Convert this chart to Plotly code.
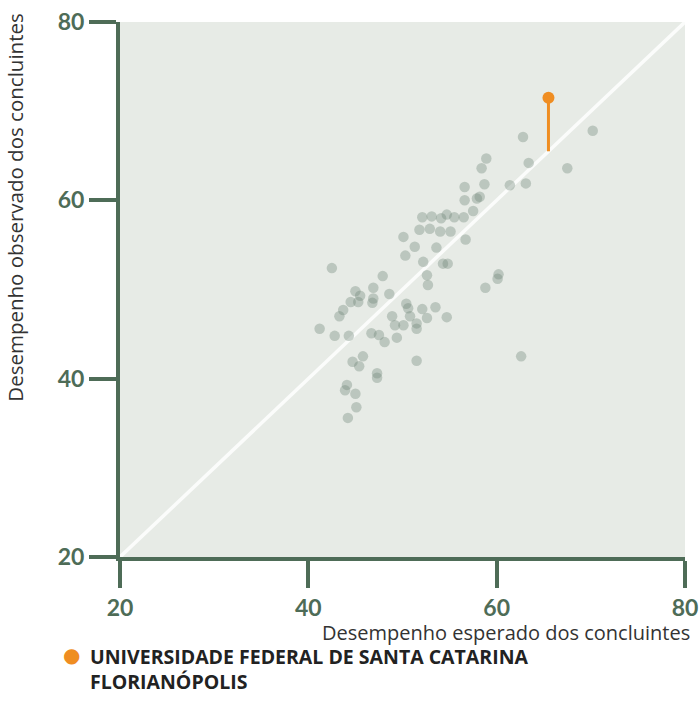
import plotly.graph_objects as go

# Expected (x) and observed (y) performance of the other institutions
esperado = [62.8, 70.2, 58.9, 58.4, 63.4, 67.5, 63.1, 61.4, 58.7, 56.6,
            56.6, 57.9, 58.2, 57.5, 56.5, 55.5, 54.7, 54.1, 53.1, 52.1,
            51.8, 52.9, 54.0, 55.1, 56.7, 50.1, 51.3, 53.6, 50.3, 52.2,
            54.3, 54.8, 47.9, 52.6, 60.2, 60.1, 58.8, 42.5, 52.7, 46.9,
            45.0, 45.5, 45.3, 46.9, 46.8, 48.6, 43.7, 43.3, 44.5, 50.4,
            50.6, 52.1, 53.5, 54.7, 48.9, 50.8, 52.6, 41.2, 42.8, 44.3,
            46.7, 47.5, 48.1, 49.4, 49.2, 50.1, 51.5, 51.5, 45.8, 44.7,
            45.4, 51.5, 47.3, 47.3, 44.1, 43.9, 45.0, 45.1, 44.2, 62.6]
observado = [67.1, 67.8, 64.7, 63.6, 64.2, 63.6, 61.9, 61.7, 61.8, 61.5,
             60.0, 60.2, 60.4, 58.8, 58.1, 58.1, 58.4, 58.0, 58.2, 58.1,
             56.7, 56.8, 56.5, 56.5, 55.6, 55.9, 54.8, 54.7, 53.8, 53.1,
             52.9, 52.9, 51.5, 51.6, 51.7, 51.2, 50.2, 52.4, 50.5, 50.2,
             49.8, 49.3, 48.6, 49.0, 48.5, 49.5, 47.7, 47.0, 48.6, 48.4,
             47.9, 47.8, 48.0, 46.9, 47.0, 47.0, 46.8, 45.6, 44.8, 44.8,
             45.1, 44.9, 44.1, 44.6, 46.0, 46.0, 45.6, 46.2, 42.5, 41.9,
             41.4, 42.0, 40.6, 40.1, 39.3, 38.7, 38.3, 36.8, 35.6, 42.5]

# Highlighted institution
ufsc_nome = "UNIVERSIDADE FEDERAL DE SANTA CATARINA<br>FLORIANÓPOLIS"
ufsc_esperado = 65.5
ufsc_observado = 71.5

# Reference line (observed = expected)
ref_x = [20, 80]
ref_y = [20, 80]

tick_vals = [20, 40, 60, 80]
tick_text = ["20", "40", "60", "80"]

titulo_x = "Desempenho esperado dos concluintes"
titulo_y = "Desempenho observado dos concluintes"

verde = "#4e6c57"
laranja = "#ef8d22"

fig = go.Figure()

fig.add_trace(go.Scatter(x=ref_x, y=ref_y, mode="lines",
                         line=dict(color="#fbfcfb", width=3.5),
                         hoverinfo="skip", showlegend=False))

fig.add_trace(go.Scatter(x=esperado, y=observado, mode="markers",
                         marker=dict(size=10.5, color="rgba(110,133,118,0.36)",
                                     line=dict(width=0)),
                         showlegend=False))

fig.add_trace(go.Scatter(x=[ufsc_esperado, ufsc_esperado],
                         y=[ufsc_esperado, ufsc_observado], mode="lines",
                         line=dict(color=laranja, width=3),
                         showlegend=False, hoverinfo="skip"))

fig.add_trace(go.Scatter(x=[ufsc_esperado], y=[ufsc_observado], mode="markers",
                         marker=dict(size=12, color=laranja),
                         showlegend=False))

axis_common = dict(
    range=[20, 80], tickvals=tick_vals, ticktext=tick_text,
    showgrid=False, zeroline=False, showline=True, linecolor=verde,
    linewidth=4, ticks="outside", ticklen=27, tickwidth=4, tickcolor=verde,
    tickfont=dict(family="Lato", size=23, color=verde, weight="bold"),
    fixedrange=True, automargin=False,
)

fig.update_layout(
    width=700, height=715,
    margin=dict(l=120, r=15, t=22, b=158),
    paper_bgcolor="white",
    plot_bgcolor="#e7ebe6",
    xaxis=dict(**axis_common),
    yaxis=dict(**axis_common),
    showlegend=False,
)

fig.add_annotation(text=titulo_x, xref="paper", yref="paper", x=1.0124, y=-0.142,
                   xanchor="right", yanchor="middle", showarrow=False,
                   font=dict(family="Open Sans", size=20, color="#333333"))

fig.add_annotation(text=titulo_y, xref="paper", yref="paper", x=-0.186, y=1.019,
                   xanchor="center", yanchor="top", textangle=-90, showarrow=False,
                   font=dict(family="Open Sans", size=20.5, color="#333333"))

fig.add_annotation(text="●", xref="paper", yref="paper", x=-0.085, y=-0.1832,
                   xanchor="center", yanchor="middle", showarrow=False,
                   font=dict(family="DejaVu Sans", size=20, color=laranja))

fig.add_annotation(text="<b>" + ufsc_nome + "</b>", xref="paper", yref="paper",
                   x=-0.0566, y=-0.2085, xanchor="left", yanchor="middle", align="left",
                   showarrow=False,
                   font=dict(family="Open Sans", size=19.5, color="#222222"))

fig.write_html("out.html", config={"displayModeBar": False},
               post_script="document.body.style.margin='0';")
